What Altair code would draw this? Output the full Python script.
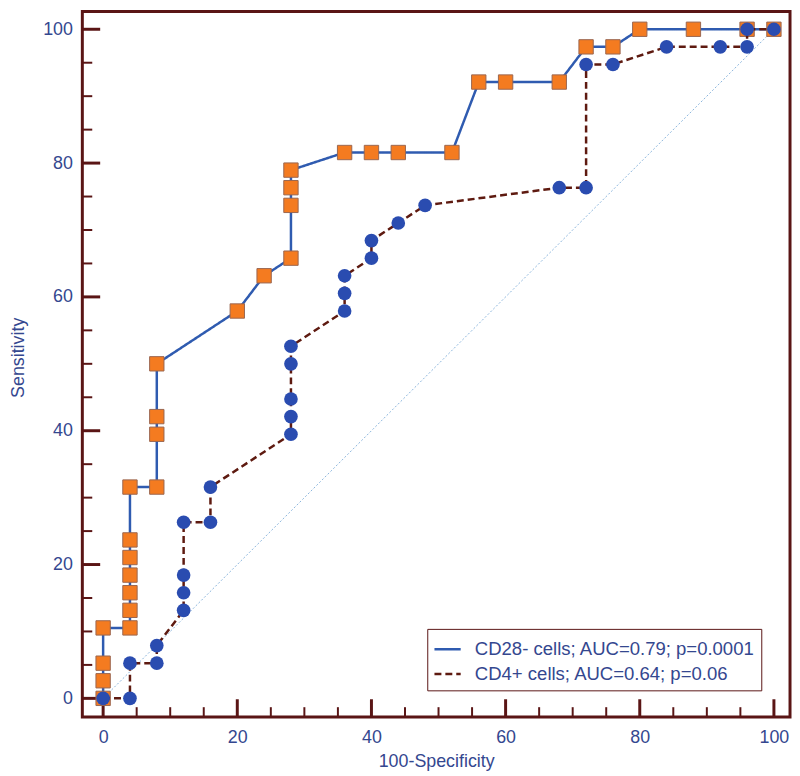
import altair as alt
import pandas as pd

# ---- data ----
series_names = ["CD28- cells; AUC=0.79; p=0.0001", "CD4+ cells; AUC=0.64; p=0.06"]

cd28_x = [0, 0, 0, 0, 4, 4, 4, 4, 4, 4, 4, 8, 8, 8, 8, 20, 24, 28, 28, 28, 28,
          36, 40, 44, 52, 56, 60, 68, 72, 76, 80, 88, 96, 100]
cd28_y = [0, 2.63, 5.26, 10.53, 10.53, 13.16, 15.79, 18.42, 21.05, 23.68, 31.58,
          31.58, 39.47, 42.11, 50.0, 57.89, 63.16, 65.79, 73.68, 76.32, 78.95,
          81.58, 81.58, 81.58, 81.58, 92.11, 92.11, 92.11, 97.37, 97.37,
          100, 100, 100, 100]

cd4_x = [0, 4, 4, 8, 8, 12, 12, 12, 12, 16, 16, 28, 28, 28, 28, 28, 36, 36, 36,
         40, 40, 44, 48, 68, 72, 72, 76, 84, 92, 96, 96, 100]
cd4_y = [0, 0, 5.26, 5.26, 7.89, 13.16, 15.79, 18.42, 26.32, 26.32, 31.58,
         39.47, 42.11, 44.74, 50.0, 52.63, 57.89, 60.53, 63.16, 65.79, 68.42,
         71.05, 73.68, 76.32, 76.32, 94.74, 94.74, 97.37, 97.37, 97.37, 100, 100]

diag_x = [0, 100]
diag_y = [0, 100]

major_ticks = [0, 20, 40, 60, 80, 100]
minor_ticks = [5, 10, 15, 25, 30, 35, 45, 50, 55, 65, 70, 75, 85, 90, 95]

# ---- tables ----
df28 = pd.DataFrame({"x": cd28_x, "y": cd28_y, "i": range(len(cd28_x)),
                     "series": series_names[0]})
df4 = pd.DataFrame({"x": cd4_x, "y": cd4_y, "i": range(len(cd4_x)),
                    "series": series_names[1]})
dfd = pd.DataFrame({"x": diag_x, "y": diag_y})
dmaj = pd.DataFrame({"x": major_ticks, "y": major_ticks})
dmin = pd.DataFrame({"x": minor_ticks, "y": minor_ticks})

W, H = 714, 712
FRAME = "#5a1515"
TXT = "#34478f"
BLUE_LINE = "#2f5bb0"
DASH_LINE = "#5e1a10"
ORANGE = "#f47b20"
CIRCLE = "#2a4cb0"
FONT = "Liberation Sans"

xs = alt.Scale(domain=[-3.1, 102.4], nice=False, zero=False)
ys = alt.Scale(domain=[-2.8, 102.67], nice=False, zero=False)

color_scale = alt.Scale(domain=series_names, range=[BLUE_LINE, DASH_LINE])
dash_scale = alt.Scale(domain=series_names, range=[[1, 0], [7, 4]])
legend = alt.Legend(
    title=None, orient="none", legendX=348, legendY=623,
    symbolType="stroke", symbolSize=700, symbolStrokeWidth=2.5,
    labelFontSize=18.7, labelColor=TXT, labelFont=FONT,
    labelOffset=13, padding=6, rowPadding=0, labelLimit=400,
    strokeColor=FRAME, fillColor="white",
)

x_axis = alt.Axis(
    values=major_ticks, ticks=False, tickSize=0, domain=False, grid=False,
    labelPadding=12, labelFontSize=18, labelColor=TXT, labelFont=FONT,
    title="100-Specificity", titleFontSize=18, titleFontWeight="normal",
    titleColor=TXT, titleFont=FONT, titleX=W / 2, titleY=45,
    titleAlign="center", titleBaseline="middle",
)
y_axis = alt.Axis(
    values=major_ticks, ticks=False, tickSize=0, domain=False, grid=False,
    labelPadding=10, labelFontSize=18, labelColor=TXT, labelFont=FONT,
    title="Sensitivity", titleFontSize=18, titleFontWeight="normal",
    titleColor=TXT, titleFont=FONT, titleX=-64, titleY=349,
    titleAngle=270, titleAlign="center", titleBaseline="middle",
)

X = alt.X("x:Q", scale=xs, axis=x_axis)
Y = alt.Y("y:Q", scale=ys, axis=y_axis)

diag = alt.Chart(dfd).mark_line(color="#8ab4dc", strokeWidth=1, strokeDash=[2, 2]).encode(
    x=X, y=Y)

xmaj = alt.Chart(dmaj).mark_rule(color=FRAME, strokeWidth=3).encode(
    x=X, y=alt.value(H), y2=alt.value(H - 18))
xmin = alt.Chart(dmin).mark_rule(color=FRAME, strokeWidth=2).encode(
    x=X, y=alt.value(H), y2=alt.value(H - 10))
ymaj = alt.Chart(dmaj).mark_rule(color=FRAME, strokeWidth=3).encode(
    y=Y, x=alt.value(0), x2=alt.value(18))
ymin = alt.Chart(dmin).mark_rule(color=FRAME, strokeWidth=2).encode(
    y=Y, x=alt.value(0), x2=alt.value(10))


def line_layer(df):
    return alt.Chart(df).mark_line(strokeWidth=2.5).encode(
        x=X, y=Y,
        order=alt.Order("i:Q"),
        color=alt.Color("series:N", scale=color_scale, legend=legend),
        strokeDash=alt.StrokeDash("series:N", scale=dash_scale, legend=legend),
    )


line28 = line_layer(df28)
sq28 = alt.Chart(df28).mark_square(size=210, color=ORANGE, stroke="#9a6650",
                                   strokeWidth=1, opacity=1).encode(x=X, y=Y)
line4 = line_layer(df4)
ci4 = alt.Chart(df4).mark_circle(size=190, color=CIRCLE, opacity=1).encode(x=X, y=Y)

chart = alt.layer(diag, xmaj, xmin, ymaj, ymin, line28, sq28, line4, ci4).properties(
    width=W, height=H,
    background="white",
    autosize=alt.AutoSizeParams(type="none"),
    padding={"left": 75, "top": 0, "right": 2, "bottom": 56},
).configure_view(stroke=FRAME, strokeWidth=3)

chart.save("out.html", embed_options={"renderer": "svg", "actions": False})
